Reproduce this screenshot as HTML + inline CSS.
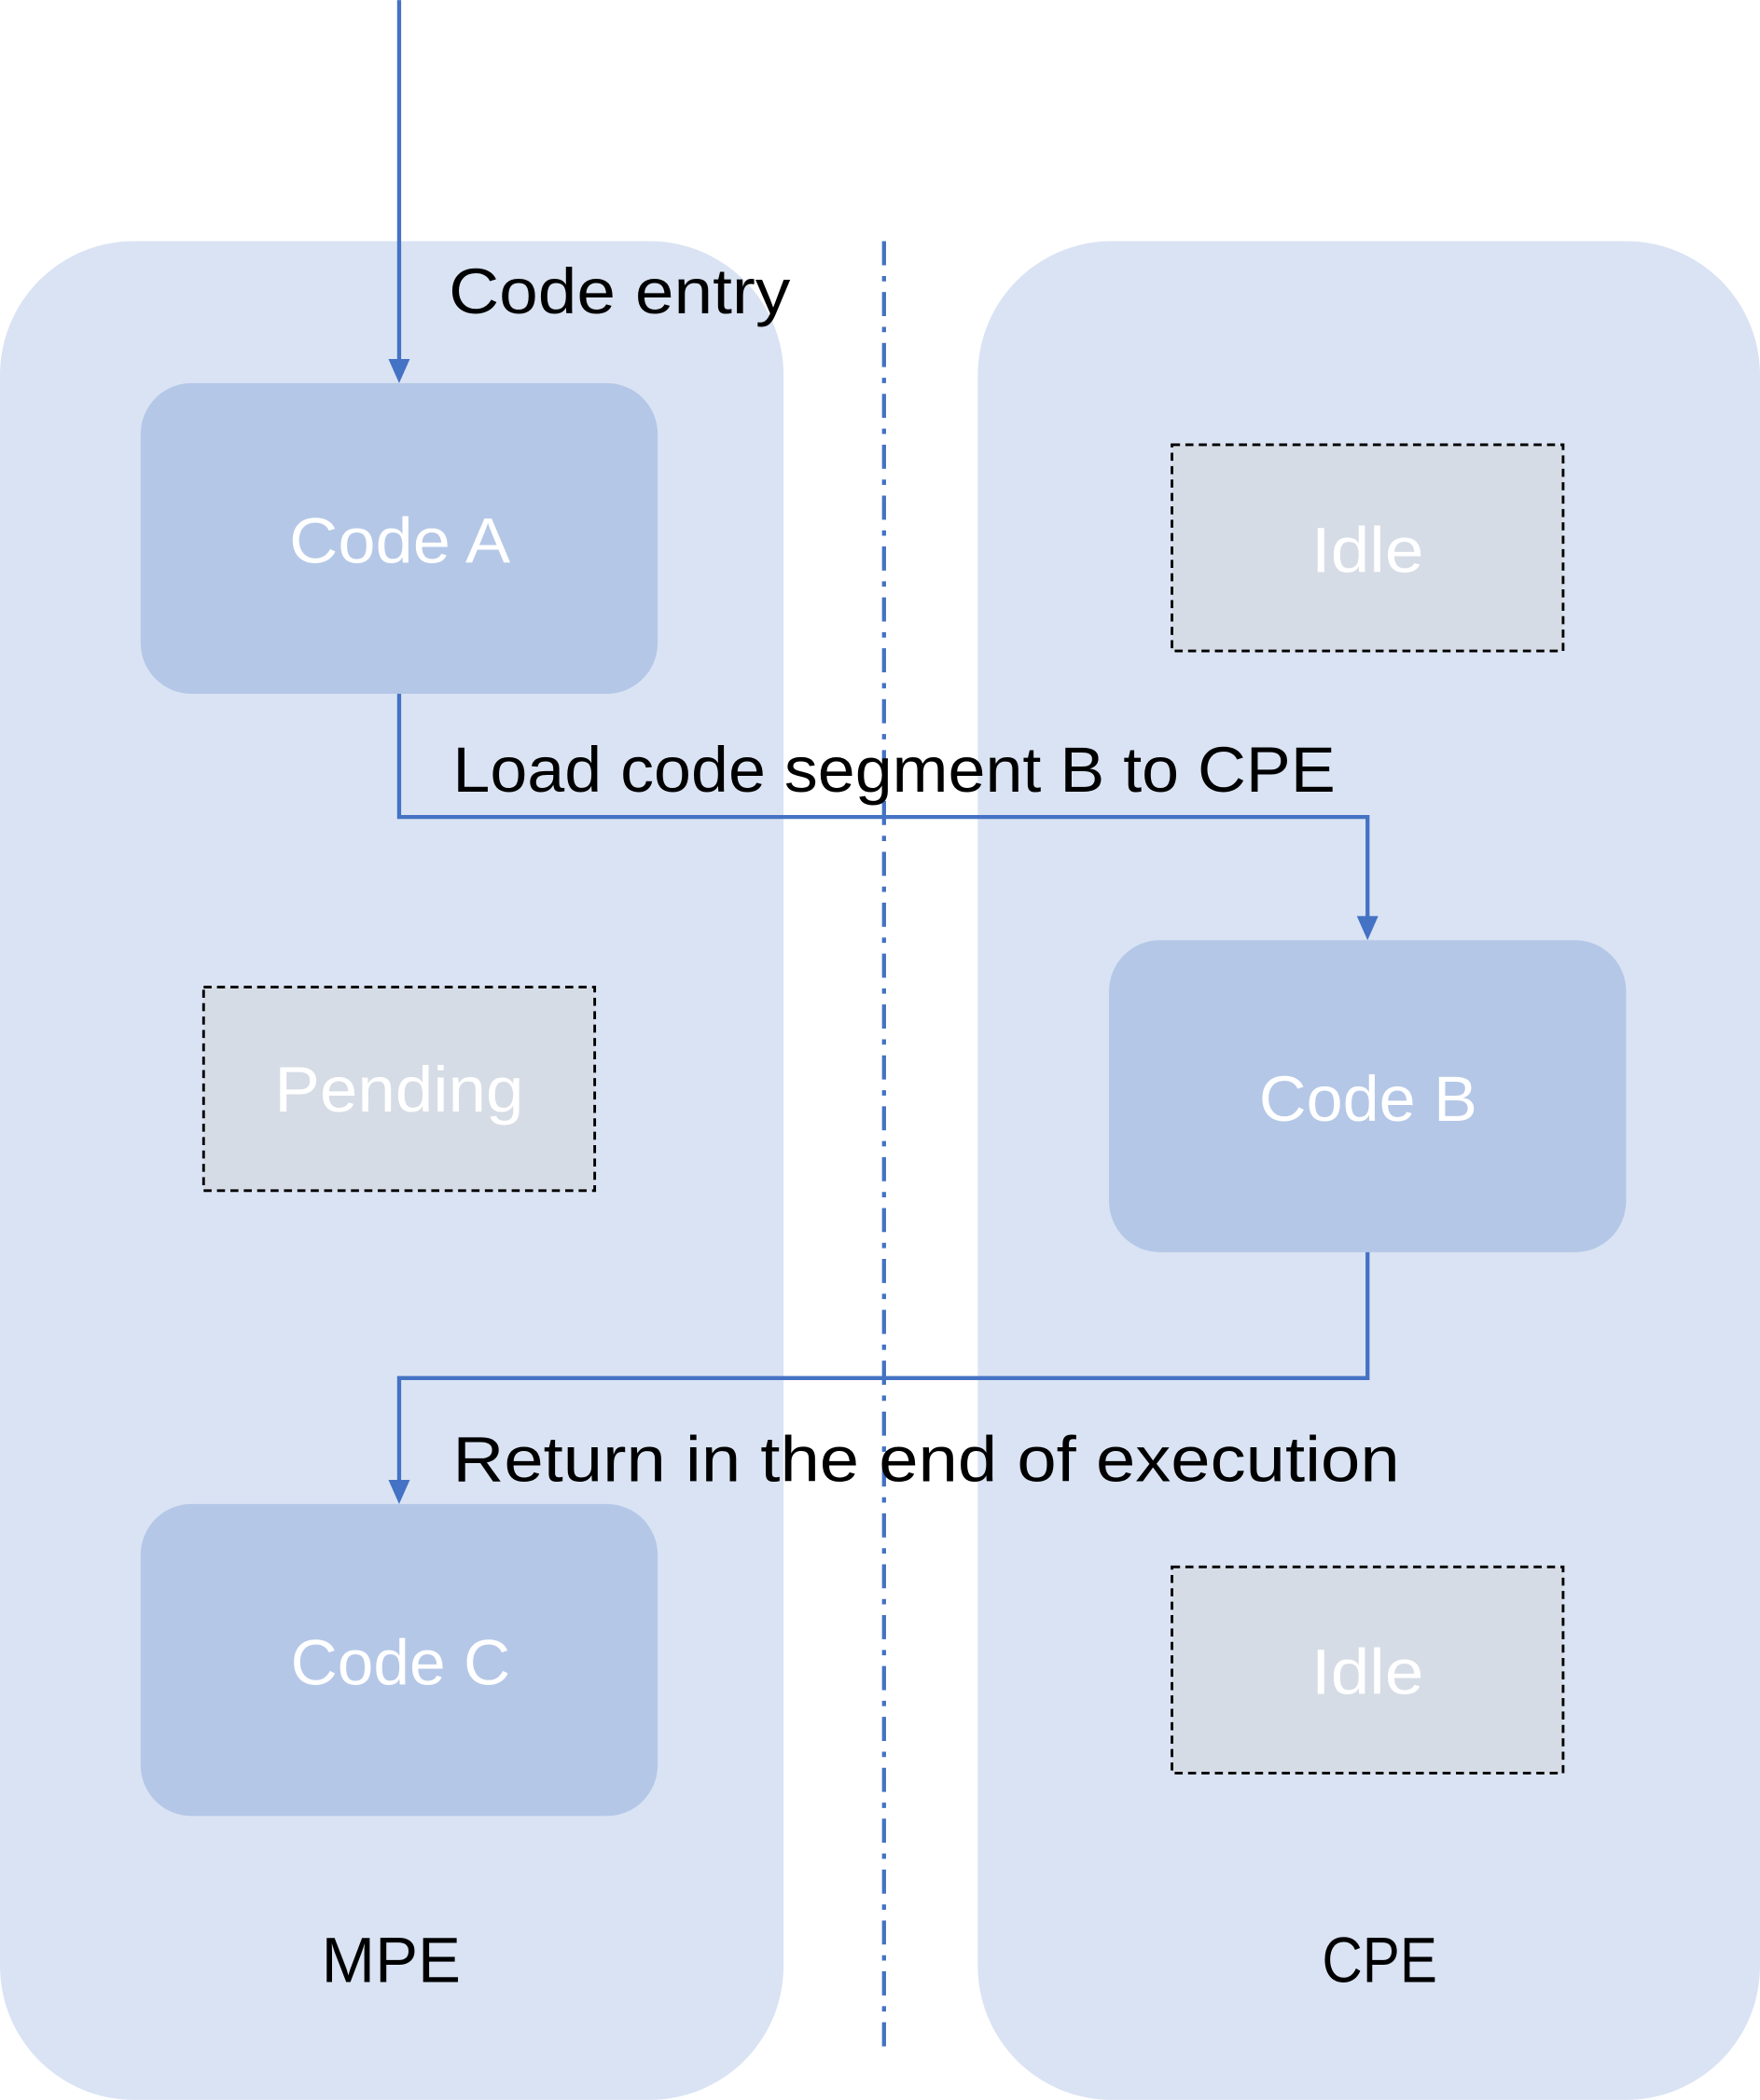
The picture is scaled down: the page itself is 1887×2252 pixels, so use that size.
<!DOCTYPE html>
<html><head><meta charset="utf-8"><style>
html,body{margin:0;padding:0;background:#fff;}
svg{display:block;}
text{font-family:"Liberation Sans",sans-serif;}
</style></head><body>
<svg width="1887" height="2252" viewBox="0 0 1314 1568" xmlns="http://www.w3.org/2000/svg">
<defs>
<marker id="ar" markerWidth="10" markerHeight="10" refX="5" refY="9" orient="auto" markerUnits="userSpaceOnUse" viewBox="0 0 10 10">
</marker>
</defs>
<rect x="0" y="180" width="585" height="1388" rx="100" fill="#dae3f3"/>
<rect x="730" y="180" width="584" height="1388" rx="100" fill="#dae3f3"/>
<line x1="660" y1="180" x2="660" y2="1535" stroke="#4472c4" stroke-width="3" stroke-dasharray="18,8,4,8"/>

<rect x="105" y="286" width="386" height="232" rx="38" fill="#b4c7e7"/>
<rect x="828" y="702" width="386" height="233" rx="38" fill="#b4c7e7"/>
<rect x="105" y="1123" width="386" height="233" rx="38" fill="#b4c7e7"/>

<rect x="152" y="737" width="292" height="152" fill="#d6dce5" stroke="#000" stroke-width="2" stroke-dasharray="6,4"/>
<rect x="875" y="332" width="292" height="154" fill="#d6dce5" stroke="#000" stroke-width="2" stroke-dasharray="6,4"/>
<rect x="875" y="1170" width="292" height="154" fill="#d6dce5" stroke="#000" stroke-width="2" stroke-dasharray="6,4"/>

<g stroke="#4472c4" stroke-width="3" fill="none">
<polyline points="298,0 298,270"/>
<polyline points="298,518 298,610 1021,610 1021,686"/>
<polyline points="1021,935 1021,1029 298,1029 298,1107"/>
</g>
<g fill="#4472c4">
<polygon points="290,268 306,268 298,286"/>
<polygon points="1013,684 1029,684 1021,702"/>
<polygon points="290,1105 306,1105 298,1123"/>
</g>

<g font-size="48" fill="#000">
<text x="335" y="234" textLength="255" lengthAdjust="spacingAndGlyphs">Code entry</text>
<text x="338" y="591" textLength="659" lengthAdjust="spacingAndGlyphs">Load code segment B to CPE</text>
<text x="338" y="1106" textLength="707" lengthAdjust="spacingAndGlyphs">Return in the end of execution</text>
<text x="240" y="1480" textLength="104" lengthAdjust="spacingAndGlyphs">MPE</text>
<text x="987" y="1480" textLength="86" lengthAdjust="spacingAndGlyphs">CPE</text>
</g>
<g font-size="48" fill="#fff">
<text x="216" y="420" textLength="165" lengthAdjust="spacingAndGlyphs">Code A</text>
<text x="940" y="837" textLength="163" lengthAdjust="spacingAndGlyphs">Code B</text>
<text x="217" y="1258" textLength="164" lengthAdjust="spacingAndGlyphs">Code C</text>
<text x="205" y="830" textLength="186" lengthAdjust="spacingAndGlyphs">Pending</text>
<text x="979" y="427" textLength="84" lengthAdjust="spacingAndGlyphs">Idle</text>
<text x="979" y="1265" textLength="84" lengthAdjust="spacingAndGlyphs">Idle</text>
</g>
</svg>
</body></html>
